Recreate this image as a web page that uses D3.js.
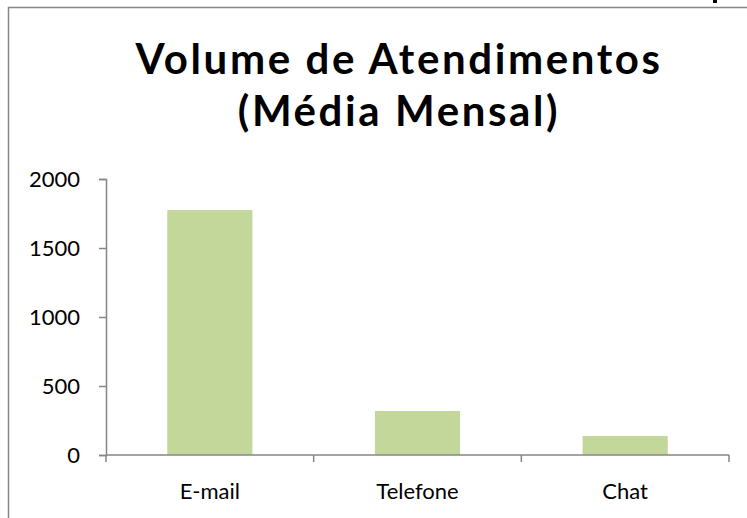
<!DOCTYPE html>
<html>
<head>
<meta charset="utf-8">
<script src="https://cdn.jsdelivr.net/npm/d3@7"></script>
<style>
  html, body { margin: 0; padding: 0; background: #fff; }
  svg { display: block; }
</style>
</head>
<body>
<div id="chart"></div>
<script>
// data
var categories = ["E-mail", "Telefone", "Chat"];
var values = [1775, 319, 138];
var yTicks = [0, 500, 1000, 1500, 2000];
var titleLines = ["Volume de Atendimentos", "(Média Mensal)"];

var width = 747, height = 518;
var font = "Lato, 'Open Sans', sans-serif";
var axisColor = "#868686";

var svg = d3.select("#chart")
  .append("svg")
  .attr("width", width)
  .attr("height", height);

// chart area border (only top and left are visible in the frame)
svg.append("rect")
  .attr("x", 8.5)
  .attr("y", 7.5)
  .attr("width", 760)
  .attr("height", 540)
  .style("fill", "none")
  .style("stroke", axisColor)
  .style("stroke-width", 1.5);

// little black mark at the top
svg.append("rect")
  .attr("x", 713).attr("y", 0)
  .attr("width", 4).attr("height", 3)
  .style("fill", "#000");

// title
svg.append("g")
  .selectAll("text")
  .data(titleLines)
  .enter()
  .append("text")
  .attr("x", 399)
  .attr("y", function(d, i) { return 74 + i * 52; })
  .attr("text-anchor", "middle")
  .style("font-family", font)
  .style("font-weight", "bold")
  .style("font-size", "42px")
  .style("letter-spacing", "2.6px")
  .style("fill", "#000")
  .text(function(d) { return d; });

var x = d3.scaleBand()
  .domain(categories)
  .range([106, 729])
  .paddingInner(0.59)
  .paddingOuter(0.295);

var y = d3.scaleLinear()
  .domain([0, 2000])
  .range([455, 179]);

// bars
svg.append("g")
  .selectAll("rect")
  .data(values)
  .enter()
  .append("rect")
  .attr("x", function(d, i) { return x(categories[i]); })
  .attr("y", function(d) { return y(d); })
  .attr("width", x.bandwidth())
  .attr("height", function(d) { return y(0) - y(d); })
  .style("fill", "#c4d79b");

// y axis
var yAxis = svg.append("g")
  .attr("transform", "translate(106,0)")
  .call(d3.axisLeft(y).tickValues(yTicks).tickFormat(d3.format("d")).tickSize(7).tickPadding(19));

// x axis, ticks between the categories
var step = x.step();
var xAxis = svg.append("g")
  .attr("transform", "translate(0," + y(0) + ")");
xAxis.append("line")
  .attr("x1", 106).attr("x2", 729)
  .attr("y1", 0).attr("y2", 0);
xAxis.selectAll(".tick")
  .data(d3.range(categories.length + 1))
  .enter()
  .append("line")
  .attr("class", "tick")
  .attr("x1", function(i) { return 106 + i * step; })
  .attr("x2", function(i) { return 106 + i * step; })
  .attr("y1", 0).attr("y2", 7);
xAxis.selectAll("text")
  .data(categories)
  .enter()
  .append("text")
  .attr("x", function(d) { return x(d) + x.bandwidth() / 2; })
  .attr("y", 44)
  .attr("text-anchor", "middle")
  .text(function(d) { return d; });

xAxis.selectAll("line").style("stroke", axisColor).style("stroke-width", 1.5);
yAxis.select(".domain").style("stroke", axisColor).style("stroke-width", 1.5);
yAxis.selectAll(".tick line").style("stroke", axisColor).style("stroke-width", 1.5);

yAxis.selectAll("text")
  .style("font-family", font)
  .style("font-size", "22px")
  .style("fill", "#000");
xAxis.selectAll("text")
  .style("font-family", font)
  .style("font-size", "22px")
  .style("fill", "#000");
</script>
</body>
</html>
